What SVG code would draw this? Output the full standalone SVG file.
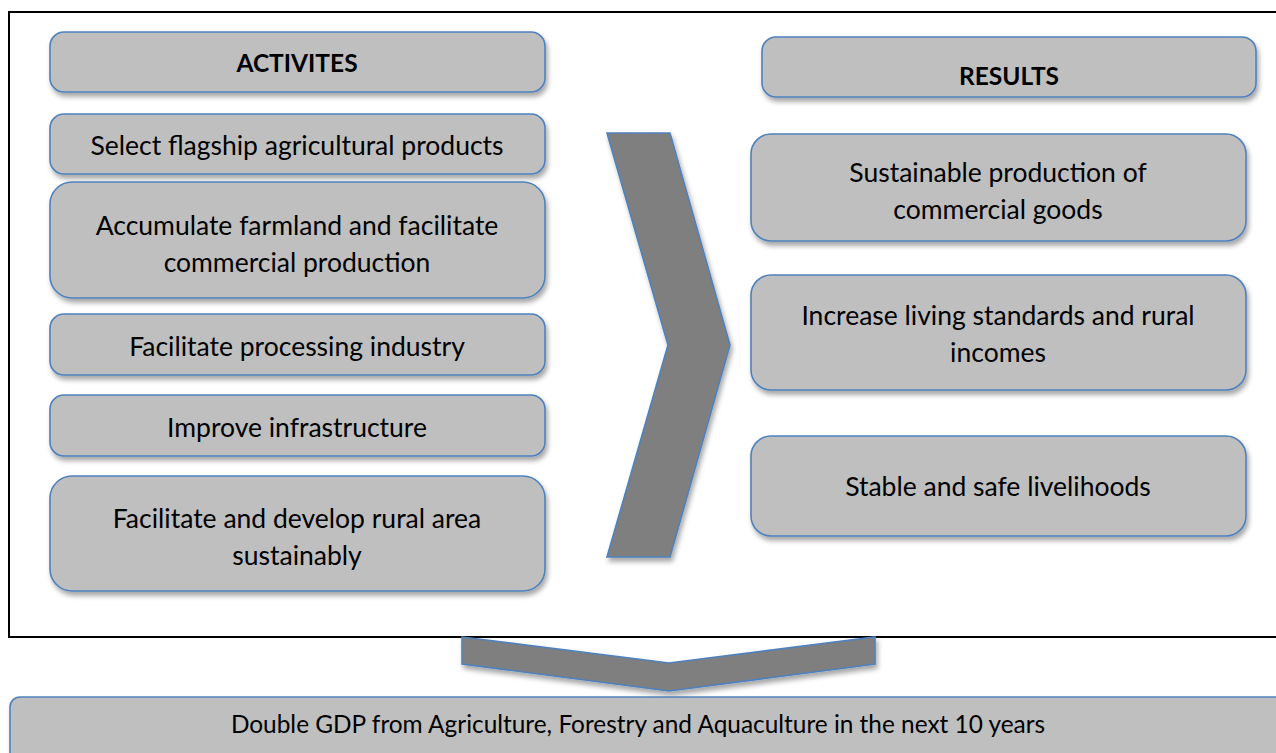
<svg xmlns="http://www.w3.org/2000/svg" width="1276" height="753" viewBox="0 0 1276 753">
<defs>
<filter id="sh" x="-10%" y="-10%" width="120%" height="130%">
<feDropShadow dx="2" dy="4" stdDeviation="2.5" flood-color="#000" flood-opacity="0.35"/>
</filter>
<style>
.box{fill:#bfbfbf;stroke:#4f81bd;stroke-width:1.6;filter:url(#sh)}
.arr{fill:#7f7f7f;stroke:#4f81bd;stroke-width:1.6;filter:url(#sh)}
text{font-family:Lato,"Open Sans","Liberation Sans",sans-serif;font-size:26.5px;fill:#000;text-anchor:middle;dominant-baseline:central}
.h{font-weight:bold;font-size:24.5px}
.g{font-size:24.4px}
</style>
</defs>
<rect width="1276" height="753" fill="#fff"/>
<rect id="frame" x="9" y="12" width="1290" height="625" fill="none" stroke="#000" stroke-width="2"/>
<g id="activities-header"><rect class="box" x="50" y="32" width="495" height="60" rx="14"/><text class="h" x="297" y="62">ACTIVITES</text></g>
<g id="a1"><rect class="box" x="50" y="114" width="495" height="60" rx="14"/><text x="297" y="145">Select flagship agricultural products</text></g>
<g id="a2"><rect class="box" x="50" y="182" width="495" height="116" rx="22"/><text x="297" y="225">Accumulate farmland and facilitate</text><text x="297" y="262">commercial production</text></g>
<g id="a3"><rect class="box" x="50" y="314" width="495" height="61" rx="14"/><text x="297" y="346">Facilitate processing industry</text></g>
<g id="a4"><rect class="box" x="50" y="395" width="495" height="61" rx="14"/><text x="297" y="427">Improve infrastructure</text></g>
<g id="a5"><rect class="box" x="50" y="476" width="495" height="115" rx="22"/><text x="297" y="518">Facilitate and develop rural area</text><text x="297" y="555">sustainably</text></g>
<g id="results-header"><rect class="box" x="762" y="37" width="494" height="60" rx="14"/><text class="h" x="1009" y="75">RESULTS</text></g>
<g id="r1"><rect class="box" x="751" y="134" width="495" height="107" rx="20"/><text x="998" y="172">Sustainable production of</text><text x="998" y="209">commercial goods</text></g>
<g id="r2"><rect class="box" x="751" y="275" width="495" height="115" rx="20"/><text x="998" y="315">Increase living standards and rural</text><text x="998" y="352">incomes</text></g>
<g id="r3"><rect class="box" x="751" y="436" width="495" height="100" rx="20"/><text x="998" y="486">Stable and safe livelihoods</text></g>
<g id="connectors">
<polygon class="arr" points="607,133 670,133 730,345 670,557 607,557 668,345"/>
<polygon class="arr" points="462,637 669,663 875,637 875,664 669,691 462,664"/>
</g>
<g id="goal"><rect class="box" x="10" y="697" width="1300" height="100" rx="10"/><text class="g" x="638" y="723">Double GDP from Agriculture, Forestry and Aquaculture in the next 10 years</text></g>
</svg>
